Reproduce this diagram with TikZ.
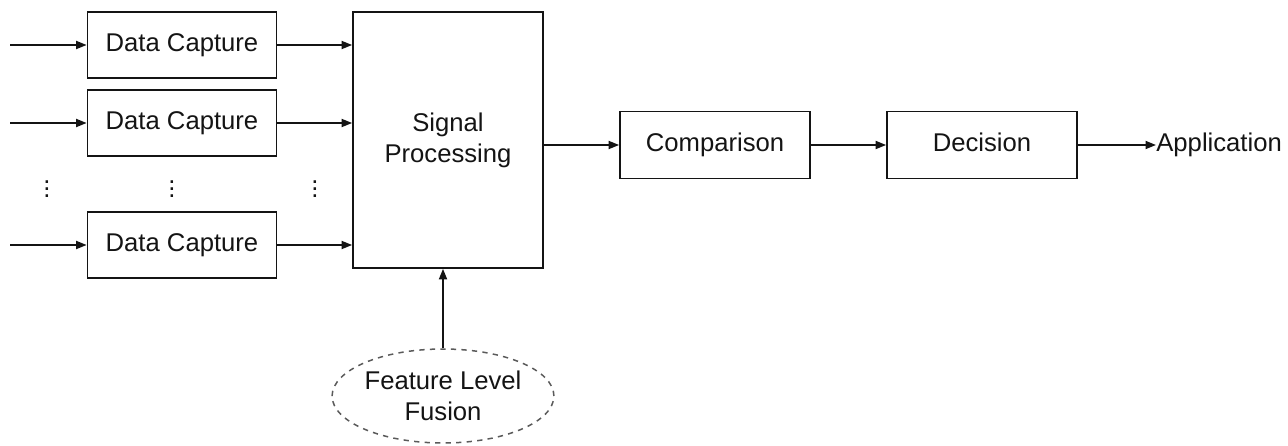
\documentclass[tikz,border=0pt]{standalone}
\usepackage{fontspec}
\setmainfont{Liberation Sans}
\usepackage{tikz}
\usetikzlibrary{arrows.meta, shapes.geometric}

\begin{document}
\begin{tikzpicture}[x=0.02cm, y=-0.02cm, font=\fontsize{14.6}{17.5}\selectfont]

\definecolor{blocktext}{RGB}{20,20,20}
\definecolor{fusion_color}{RGB}{90,90,90}

\tikzset{
  blk/.style={draw=blocktext, line width=0.035cm, minimum width=3.78cm, minimum height=1.33cm, inner sep=0, text=blocktext, text height=1.45ex, text depth=0pt},
  ar/.style={-{Triangle[length=2.1mm, width=1.6mm]}, line width=0.035cm, draw=blocktext},
  lab/.style={text=blocktext, inner sep=0},
}

\useasboundingbox (0,0) rectangle (1288,446);

% capture stages
\node[blk] (dc1) at (182,45) {Data Capture};
\node[blk] (dc2) at (182,123) {Data Capture};
\node[blk] (dc3) at (182,245) {Data Capture};

\coordinate (in1) at (10,45);
\coordinate (in2) at (10,123);
\coordinate (in3) at (10,245);

\node[lab] (dotsA) at (47,184) {$\vdots$};
\node[lab] (dotsB) at (172,184) {$\vdots$};
\node[lab] (dotsC) at (315,184) {$\vdots$};

% main chain
\node[blk, align=center, text height=, text depth=, minimum width=3.8cm, minimum height=5.12cm] (sp) at (448,140) {Signal\\Processing};
\node[blk, minimum width=3.8cm, minimum height=1.34cm] (cmp) at (715,145) {Comparison};
\node[blk, minimum width=3.8cm, minimum height=1.34cm] (dec) at (982,145) {Decision};
\node[lab, text height=1.45ex, text depth=0pt, anchor=west] (app) at (1156,145) {Application};

\node[ellipse, draw=fusion_color, dashed, line width=0.03cm, minimum width=4cm, minimum height=1.88cm, inner sep=0, text=blocktext, align=center] (flf) at (443,396) {Feature Level\\Fusion};

\draw[ar] (in1) -- (dc1.west);
\draw[ar] (in2) -- (dc2.west);
\draw[ar] (in3) -- (dc3.west);

\draw[ar] (dc1.east) -- (dc1.east -| sp.west);
\draw[ar] (dc2.east) -- (dc2.east -| sp.west);
\draw[ar] (dc3.east) -- (dc3.east -| sp.west);

\draw[ar] (sp.east |- cmp.west) -- (cmp.west);
\draw[ar] (cmp.east) -- (dec.west);
\draw[ar] (dec.east) -- (app.west);

\draw[ar] (flf.north) -- (flf.north |- sp.south);

\end{tikzpicture}
\end{document}
